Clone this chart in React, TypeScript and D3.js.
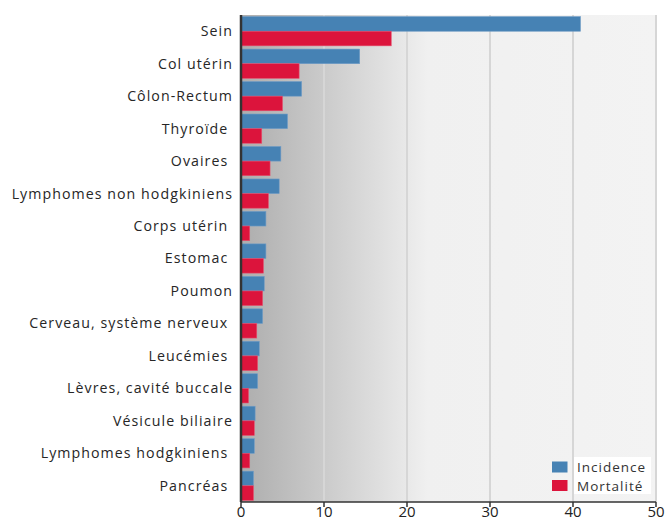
import React from "react";
import * as d3 from "d3";

const categories = [
  "Sein",
  "Col utérin",
  "Côlon-Rectum",
  "Thyroïde ",
  "Ovaires ",
  "Lymphomes non hodgkiniens",
  "Corps utérin ",
  "Estomac ",
  "Poumon",
  "Cerveau, système nerveux ",
  "Leucémies ",
  "Lèvres, cavité buccale",
  "Vésicule biliaire",
  "Lymphomes hodgkiniens ",
  "Pancréas ",
];
const incidence = [40.9, 14.3, 7.3, 5.6, 4.8, 4.6, 3.0, 3.0, 2.8, 2.6, 2.2, 2.0, 1.7, 1.6, 1.5];
const mortalite = [18.1, 7.0, 5.0, 2.5, 3.5, 3.3, 1.05, 2.7, 2.6, 1.9, 2.0, 0.9, 1.6, 1.05, 1.5];
const seriesNames = ["Incidence", "Mortalité"];
const seriesColors = ["#4682b4", "#dc143c"];
const xTicks = [0, 10, 20, 30, 40, 50];

const W = 667;
const H = 521;
const left = 241;
const right = 656;
const top = 15;
const bottom = 502;

export default function App() {
  const x = d3.scaleLinear().domain([0, 50]).range([left, right]);
  const y = d3
    .scaleBand<string>()
    .domain(categories)
    .range([top, bottom])
    .paddingInner(0.1)
    .paddingOuter(0.05);
  const sub = d3.scaleBand<string>().domain(seriesNames).range([0, y.bandwidth()]).padding(0);
  const series = [incidence, mortalite];
  const font = "'Open Sans', 'Noto Sans', sans-serif";

  return (
    <svg
      width={W}
      height={H}
      style={{ position: "absolute", left: 0, top: 0, display: "block" }}
    >
      <defs>
        <linearGradient id="bg" x1="0" x2="1" y1="0" y2="0">
          <stop offset="0%" stopColor="#adadad" />
          <stop offset="45%" stopColor="#f0f0f0" />
          <stop offset="100%" stopColor="#f3f3f3" />
        </linearGradient>
      </defs>
      <rect x={0} y={0} width={W} height={H} fill="#fff" />
      <rect x={left} y={top} width={right - left} height={bottom - top} fill="url(#bg)" />
      {xTicks.slice(1).map((t) => (
        <line key={"g" + t} x1={x(t)} x2={x(t)} y1={top} y2={bottom} stroke="#d6d6d6" strokeWidth={2} />
      ))}
      {categories.map((c, i) => (
        <g key={c} transform={`translate(0,${y(c)})`}>
          {series.map((s, k) => (
            <rect
              key={k}
              x={x(0)}
              y={sub(seriesNames[k])}
              width={x(s[i]) - x(0)}
              height={sub.bandwidth()}
              fill={seriesColors[k]}
              stroke={k === 0 ? "#6f9cc6" : "#e5506e"}
              strokeWidth={0.6}
            />
          ))}
          <text
            x={233}
            y={y.bandwidth() / 2}
            dy="0.35em"
            textAnchor="end"
            fontFamily={font}
            fontSize={14.2}
            letterSpacing={1.05}
            fill="#262626"
            style={{ whiteSpace: "pre" }}
          >
            {c}
          </text>
        </g>
      ))}
      <line x1={left} x2={left} y1={top} y2={bottom} stroke="#333" strokeWidth={2.5} />
      <line x1={left} x2={right} y1={bottom} y2={bottom} stroke="#333" strokeWidth={1.5} />
      {xTicks.map((t) => (
        <g key={"t" + t}>
          <line x1={x(t)} x2={x(t)} y1={bottom} y2={bottom + 5} stroke="#333" strokeWidth={1.5} />
          <text x={x(t)} y={517} textAnchor="middle" fontFamily={font} fontSize={15} fill="#222">
            {t}
          </text>
        </g>
      ))}
      <g>
        <rect x={574} y={457} width={77} height={37} fill="#fff" />
        {seriesNames.map((n, k) => (
          <g key={n}>
            <rect x={552} y={461.5 + k * 18.5} width={15.5} height={11} fill={seriesColors[k]} />
            <text x={577} y={471.5 + k * 19} fontFamily={font} fontSize={13.5} letterSpacing={1} fill="#333">
              {n}
            </text>
          </g>
        ))}
      </g>
    </svg>
  );
}
